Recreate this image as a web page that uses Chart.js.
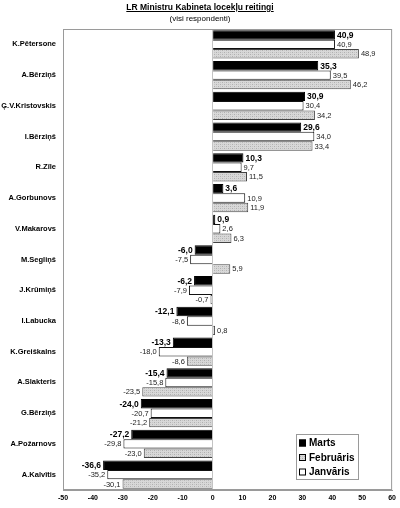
<!DOCTYPE html>
<html>
<head>
<meta charset="utf-8">
<script src="https://cdn.jsdelivr.net/npm/chart.js@4.4.0/dist/chart.umd.min.js"></script>
<style>
  html, body { margin: 0; padding: 0; background: #fff; }
  #wrap { position: relative; width: 400px; height: 508px; }
  #title { position: absolute; top: 2px; left: 0; width: 400px; text-align: center;
           font: bold 8.5px "Liberation Sans", Arial, sans-serif; text-decoration: underline; color: #000; }
  #subtitle { position: absolute; top: 14px; left: 0; width: 400px; text-align: center;
              font: 8px "Liberation Sans", Arial, sans-serif; color: #000; }
</style>
</head>
<body>
<div id="wrap">
  <div id="title">LR Ministru Kabineta locekļu reitingi</div>
  <div id="subtitle">(visi respondenti)</div>
  <canvas id="myChart" width="400" height="508"></canvas>
</div>
<script>
const ctx = document.getElementById('myChart').getContext('2d');

// names on the y axis, top to bottom
const ministers = ['K.Pētersone', 'A.Bērziņš', 'Ģ.V.Kristovskis', 'I.Bērziņš', 'R.Zīle',
  'A.Gorbunovs', 'V.Makarovs', 'M.Segliņš', 'J.Krūmiņš', 'I.Labucka', 'K.Greiškalns',
  'A.Slakteris', 'G.Bērziņš', 'A.Požarnovs', 'A.Kalvītis'];

// ratings per month
const marts = [40.9, 35.3, 30.9, 29.6, 10.3, 3.6, 0.9, -6.0, -6.2, -12.1, -13.3, -15.4, -24.0, -27.2, -36.6];
const janvaris = [40.9, 39.5, 30.4, 34.0, 9.7, 10.9, 2.6, -7.5, -7.9, -8.6, -18.0, -15.8, -20.7, -29.8, -35.2];
const februaris = [48.9, 46.2, 34.2, 33.4, 11.5, 11.9, 6.3, 5.9, -0.7, 0.8, -8.6, -23.5, -21.2, -23.0, -30.1];

const xTicks = [-50, -40, -30, -20, -10, 0, 10, 20, 30, 40, 50, 60];

const FONT = '"Liberation Sans", Arial, sans-serif';

// speckled grey fill like the printed original
function makeGrey() {
  const c = document.createElement('canvas');
  c.width = 4; c.height = 4;
  const g = c.getContext('2d');
  g.fillStyle = '#d8d8d8';
  g.fillRect(0, 0, 4, 4);
  g.fillStyle = '#b0b0b0';
  g.fillRect(0, 0, 1, 1);
  g.fillRect(2, 2, 1, 1);
  g.fillStyle = '#c4c4c4';
  g.fillRect(2, 0, 1, 1);
  g.fillRect(0, 2, 1, 1);
  return ctx.createPattern(c, 'repeat');
}
const grey = makeGrey();

const fmt = v => v.toFixed(1).replace('.', ',');

// value labels at the end of each bar
const valueLabels = {
  id: 'valueLabels',
  afterDatasetsDraw(chart) {
    const c = chart.ctx;
    c.save();
    c.textBaseline = 'middle';
    chart.data.datasets.forEach((ds, i) => {
      const meta = chart.getDatasetMeta(i);
      meta.data.forEach((bar, j) => {
        const v = ds.data[j];
        c.font = i === 0 ? 'bold 8.5px ' + FONT : '7.5px ' + FONT;
        c.fillStyle = i === 0 ? '#000' : '#222';
        if (v >= 0) {
          c.textAlign = 'left';
          c.fillText(fmt(v), bar.x + 2, bar.y + 0.5);
        } else {
          c.textAlign = 'right';
          c.fillText(fmt(v), bar.x - 2, bar.y + 0.5);
        }
      });
    });
    c.restore();
  }
};

// grey frame round the plot area
const frame = {
  id: 'frame',
  beforeDatasetsDraw(chart) {
    const a = chart.chartArea;
    const c = chart.ctx;
    c.save();
    c.strokeStyle = '#9a9a9a';
    c.lineWidth = 1;
    c.strokeRect(a.left + 0.5, a.top + 0.5, a.right - a.left - 1, a.bottom - a.top - 1);
    c.restore();
  }
};

// boxed legend in the lower right corner
const boxLegend = {
  id: 'boxLegend',
  afterDraw(chart) {
    const c = chart.ctx;
    const items = [
      { text: 'Marts', fill: '#000' },
      { text: 'Februāris', fill: grey },
      { text: 'Janvāris', fill: '#fff' }
    ];
    const x0 = 296, y0 = 434, w = 62, h = 45;
    c.save();
    c.fillStyle = '#fff';
    c.fillRect(x0, y0, w, h);
    c.strokeStyle = '#9a9a9a';
    c.lineWidth = 1;
    c.strokeRect(x0 + 0.5, y0 + 0.5, w, h);
    c.font = 'bold 10px ' + FONT;
    c.textBaseline = 'middle';
    c.textAlign = 'left';
    items.forEach((it, k) => {
      const y = y0 + 9 + k * 14.5;
      c.fillStyle = it.fill;
      c.fillRect(x0 + 3, y - 3.5, 7, 7);
      c.strokeStyle = '#000';
      c.strokeRect(x0 + 3.5, y - 3, 6, 6);
      c.fillStyle = '#000';
      c.fillText(it.text, x0 + 13, y + 0.5);
    });
    c.restore();
  }
};

const myChart = new Chart(ctx, {
  type: 'bar',
  data: {
    labels: ministers,
    datasets: [
      { label: 'Marts', data: marts, backgroundColor: '#000', borderColor: '#000', borderWidth: 1 },
      { label: 'Janvāris', data: janvaris, backgroundColor: '#fff', borderColor: '#111', borderWidth: 1 },
      { label: 'Februāris', data: februaris, backgroundColor: grey, borderColor: '#444', borderWidth: 1 }
    ]
  },
  options: {
    indexAxis: 'y',
    responsive: false,
    animation: false,
    devicePixelRatio: 1,
    layout: { padding: { top: 29, right: 7, left: 0, bottom: 0 } },
    datasets: {
      bar: { categoryPercentage: 0.92, barPercentage: 1.0 }
    },
    scales: {
      x: {
        min: -50,
        max: 60,
        afterBuildTicks(scale) {
          scale.ticks = xTicks.map(v => ({ value: v }));
        },
        afterFit(scale) { scale.height = 18; },
        grid: {
          drawTicks: false,
          color: c => (c.tick && c.tick.value === 0) ? '#c4c4c4' : 'rgba(0,0,0,0)'
        },
        border: { display: true, color: '#9a9a9a' },
        ticks: {
          padding: 4,
          color: '#000',
          font: { family: FONT, size: 7, weight: 'bold' }
        }
      },
      y: {
        afterFit(scale) { scale.width = 63; },
        grid: { display: false, drawTicks: false },
        border: { display: true, color: '#9a9a9a' },
        ticks: {
          padding: 7,
          color: '#000',
          font: { family: FONT, size: 7.5, weight: 'bold' }
        }
      }
    },
    plugins: {
      legend: { display: false },
      tooltip: { enabled: false }
    }
  },
  plugins: [frame, valueLabels, boxLegend]
});
</script>
</body>
</html>
